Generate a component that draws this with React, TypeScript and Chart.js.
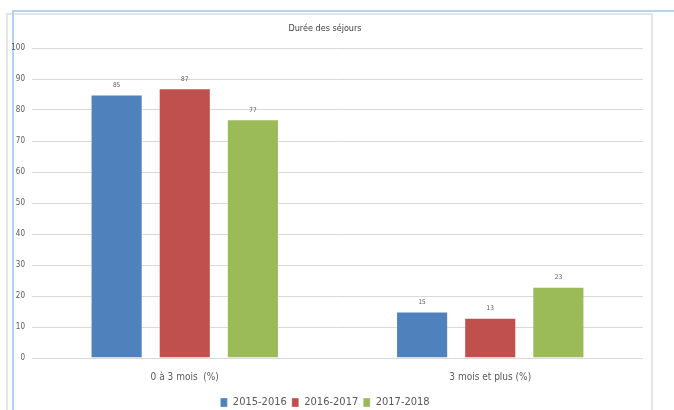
import React, { useEffect, useRef } from "react";
import { Chart, registerables } from "chart.js";

Chart.register(...registerables);

const categories = ["0 à 3 mois  (%)", "3 mois et plus (%)"];
const seriesNames = ["2015-2016", "2016-2017", "2017-2018"];
const values2015 = [85, 15];
const values2016 = [87, 13];
const values2017 = [77, 23];
const yTicks = [0, 10, 20, 30, 40, 50, 60, 70, 80, 90, 100];
const title = "Durée des séjours";

const colors = ["#4F81BD", "#C0504D", "#9BBB59"];
const FONT = "'Liberation Sans Narrow', 'DejaVu Sans Condensed', 'Open Sans', sans-serif";
const TEXT = "#595959";

const valueLabels = {
  id: "valueLabels",
  afterDatasetsDraw(chart: any) {
    const ctx = chart.ctx;
    ctx.save();
    ctx.font = `6.5px ${FONT}`;
    ctx.fillStyle = TEXT;
    ctx.textAlign = "center";
    ctx.textBaseline = "middle";
    chart.data.datasets.forEach((ds: any, i: number) => {
      const meta = chart.getDatasetMeta(i);
      meta.data.forEach((bar: any, j: number) => {
        ctx.fillText(String(ds.data[j]), bar.x, bar.y - 9);
      });
    });
    ctx.restore();
  },
};

export default function App() {
  const ref = useRef<HTMLCanvasElement | null>(null);
  useEffect(() => {
    document.body.style.margin = "0";
    const data = [values2015, values2016, values2017];
    const chart = new Chart(ref.current as HTMLCanvasElement, {
      type: "bar",
      data: {
        labels: categories,
        datasets: seriesNames.map((name, i) => ({
          label: name,
          data: data[i],
          backgroundColor: colors[i],
          borderColor: "rgba(255,255,255,0.35)",
          borderWidth: 1,
          categoryPercentage: 0.669,
          barPercentage: 0.765,
        })),
      },
      options: {
        animation: false,
        responsive: false,
        devicePixelRatio: 1,
        layout: { padding: { left: 0, right: 8, top: 0, bottom: 0 } },
        plugins: {
          title: {
            display: true,
            text: title,
            color: "#404040",
            font: { family: FONT, size: 9, weight: "normal" },
            padding: { top: 23.4, bottom: 13.8 },
          },
          legend: {
            position: "bottom",
            labels: {
              boxWidth: 7,
              boxHeight: 9,
              padding: 5,
              color: TEXT,
              font: { family: FONT, size: 11 },
            },
          },
          tooltip: { enabled: false },
        },
        scales: {
          x: {
            grid: { display: false, drawTicks: false },
            border: { display: false },
            ticks: { color: TEXT, padding: 13.5, font: { family: FONT, size: 10 } },
            afterFit: (s: any) => {
              s.height = 34;
            },
          },
          y: {
            min: 0,
            max: 100,
            afterBuildTicks: (s: any) => {
              s.ticks = yTicks.map((v) => ({ value: v }));
            },
            grid: { color: "#d9d9d9", drawTicks: false, lineWidth: 1 },
            border: { display: false },
            ticks: { color: TEXT, padding: 7, font: { family: FONT, size: 8 } },
            afterFit: (s: any) => {
              s.width = 25;
            },
          },
        },
      },
      plugins: [valueLabels],
    } as any);
    return () => chart.destroy();
  }, []);

  return (
    <div style={{ position: "fixed", left: 0, top: 0, width: 674, height: 410, overflow: "hidden", background: "#fff" }}>
      <div style={{ position: "absolute", left: 6, top: 13, width: 643, height: 420, border: "2px solid #e6e6e6", boxSizing: "content-box" }} />
      <div style={{ position: "absolute", left: 12, top: 10, width: 662, height: 2, background: "#b4d3ec" }} />
      <div style={{ position: "absolute", left: 12, top: 10, width: 1.5, height: 400, background: "#b4d3ec" }} />
      <canvas ref={ref} width={644} height={418} style={{ position: "absolute", left: 7, top: 0, width: 644, height: 418 }} />
    </div>
  );
}
